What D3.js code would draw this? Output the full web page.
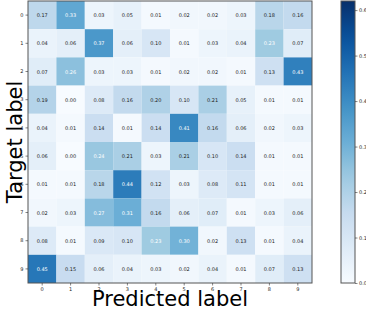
<!DOCTYPE html>
<html><head><meta charset="utf-8">
<script src="https://cdn.jsdelivr.net/npm/d3@7"></script>
<style>body{margin:0;background:#fff}svg{display:block}</style>
</head><body>
<script>
const predictedLabels = ["0","1","2","3","4","5","6","7","8","9"];
const targetLabels = ["0","1","2","3","4","5","6","7","8","9"];
const row0 = [0.17,0.33,0.03,0.05,0.01,0.02,0.02,0.03,0.18,0.16];
const row1 = [0.04,0.06,0.37,0.06,0.10,0.01,0.03,0.04,0.23,0.07];
const row2 = [0.07,0.26,0.03,0.03,0.01,0.02,0.02,0.01,0.13,0.43];
const row3 = [0.19,0.00,0.08,0.16,0.20,0.10,0.21,0.05,0.01,0.01];
const row4 = [0.04,0.01,0.14,0.01,0.14,0.41,0.16,0.06,0.02,0.03];
const row5 = [0.06,0.00,0.24,0.21,0.03,0.21,0.10,0.14,0.01,0.01];
const row6 = [0.01,0.01,0.18,0.44,0.12,0.03,0.08,0.11,0.01,0.01];
const row7 = [0.02,0.03,0.27,0.31,0.16,0.06,0.07,0.01,0.03,0.06];
const row8 = [0.08,0.01,0.09,0.10,0.23,0.30,0.02,0.13,0.01,0.04];
const row9 = [0.45,0.15,0.06,0.04,0.03,0.02,0.04,0.01,0.07,0.13];
const matrix = [row0,row1,row2,row3,row4,row5,row6,row7,row8,row9];
const colorbarTicks = [0.0,0.1,0.2,0.3,0.4,0.5,0.6];
const colorMax = 0.62;

const W = 366, H = 309;
const svg = d3.select("body").append("svg").attr("width", W).attr("height", H);

const blues = ["#f7fbff","#deebf7","#c6dbef","#9ecae1","#6baed6","#4292c6","#2171b5","#08519c","#08306b"];
const color = d3.scaleLinear()
  .domain(blues.map((_, i) => colorMax * i / (blues.length - 1)))
  .range(blues).clamp(true);

const mLeft = 28, mRight = 312, mTop = 1, mBottom = 283;
const x = d3.scaleBand().domain(predictedLabels).range([mLeft, mRight]);
const y = d3.scaleBand().domain(targetLabels).range([mTop, mBottom]);

const cells = [];
matrix.forEach((r, i) => r.forEach((v, j) => cells.push({r: targetLabels[i], c: predictedLabels[j], v})));
const maxV = d3.max(cells, d => d.v);
const thresh = maxV / 2;

svg.append("g").selectAll("rect").data(cells).join("rect")
  .attr("x", d => x(d.c)).attr("y", d => y(d.r))
  .attr("width", x.bandwidth()).attr("height", y.bandwidth())
  .attr("fill", d => color(d.v));

svg.append("g").selectAll("text").data(cells).join("text")
  .attr("x", d => x(d.c) + x.bandwidth() / 2)
  .attr("y", d => y(d.r) + y.bandwidth() / 2)
  .attr("text-anchor", "middle").attr("dominant-baseline", "central")
  .attr("font-family", "DejaVu Sans").attr("font-size", 5)
  .attr("fill", d => d.v > thresh ? "#ffffff" : "#222")
  .text(d => d.v.toFixed(2));

svg.append("rect").attr("x", mLeft).attr("y", mTop).attr("width", mRight - mLeft).attr("height", mBottom - mTop)
  .attr("fill", "none").attr("stroke", "#555").attr("stroke-width", 1);

const fontAxis = g => g.selectAll("text").attr("font-family", "DejaVu Sans").attr("font-size", 5).attr("fill", "#222");
const xAxis = svg.append("g").attr("transform", `translate(0,${mBottom})`)
  .call(d3.axisBottom(x).tickSize(2.5).tickPadding(2));
xAxis.select(".domain").remove();
xAxis.selectAll("line").attr("stroke", "#333").attr("stroke-width", 0.6);
fontAxis(xAxis);
const yAxis = svg.append("g").attr("transform", `translate(${mLeft},0)`)
  .call(d3.axisLeft(y).tickSize(2.5).tickPadding(2));
yAxis.select(".domain").remove();
yAxis.selectAll("line").attr("stroke", "#333").attr("stroke-width", 0.6);
fontAxis(yAxis);

svg.append("text").attr("x", (mLeft + mRight) / 2).attr("y", 306)
  .attr("text-anchor", "middle").attr("font-family", "DejaVu Sans").attr("font-size", 21)
  .attr("fill", "#000").text("Predicted label");
svg.append("text").attr("transform", `translate(22,${(mTop + mBottom) / 2}) rotate(-90)`)
  .attr("text-anchor", "middle").attr("font-family", "DejaVu Sans").attr("font-size", 21)
  .attr("fill", "#000").text("Target label");

// colorbar
const cbX = 341, cbW = 14;
const cbY = d3.scaleLinear().domain([0, colorMax]).range([mBottom, mTop]);
const defs = svg.append("defs");
const grad = defs.append("linearGradient").attr("id", "cbg").attr("x1", 0).attr("y1", 1).attr("x2", 0).attr("y2", 0);
grad.selectAll("stop").data(d3.range(0, 1.0001, 0.05)).join("stop")
  .attr("offset", d => d).attr("stop-color", d => color(d * colorMax));
svg.append("rect").attr("x", cbX).attr("y", mTop).attr("width", cbW).attr("height", mBottom - mTop)
  .attr("fill", "url(#cbg)").attr("stroke", "#555").attr("stroke-width", 1);
const cbAxis = svg.append("g").attr("transform", `translate(${cbX + cbW},0)`)
  .call(d3.axisRight(cbY).tickValues(colorbarTicks).tickFormat(d3.format(".1f")).tickSize(2.5).tickPadding(1.5));
cbAxis.select(".domain").remove();
cbAxis.selectAll("line").attr("stroke", "#333").attr("stroke-width", 0.6);
fontAxis(cbAxis);
</script>
</body></html>
